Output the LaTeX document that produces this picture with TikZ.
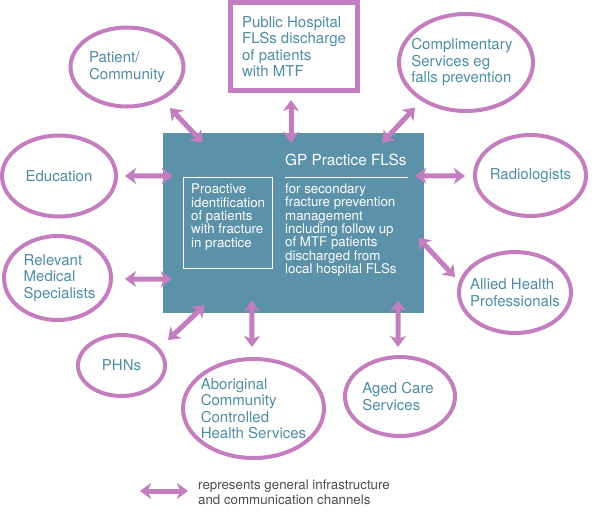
\documentclass[tikz,border=0pt]{standalone}
\usepackage{fontspec}
\setmainfont{TeX Gyre Heros}
\usetikzlibrary{arrows.meta,shapes.geometric,calc}
\definecolor{orchid}{HTML}{C47EC0}
\definecolor{fls}{HTML}{5B91A9}
\definecolor{flstext}{HTML}{4E8CA5}
\begin{document}
\begin{tikzpicture}[x=1pt,y=-1pt,
  partner/.style={ellipse,draw=orchid,line width=4pt,inner sep=0pt},
  ptext/.style={text=flstext,align=left,inner sep=0pt,font=\fontsize{15}{16.5}\selectfont},
  intext/.style={text=white,align=left,inner sep=0pt,font=\fontsize{13.3}{13.4}\selectfont},
  link/.style={orchid,line width=5pt,{Stealth[length=11pt,width=16pt,inset=3pt]}-{Stealth[length=11pt,width=16pt,inset=3pt]}}]
  \useasboundingbox (0,0) rectangle (595,515);
  % centre: GP practice
  \node[fill=fls,minimum width=261,minimum height=180,inner sep=0pt] (gp) at (293.5,223) {};
  \node[draw=white,line width=1.2pt,minimum width=89,minimum height=91,inner sep=0pt] (probox) at (228,223) {};
  \node[intext,anchor=west] (pro) at (191,217) {Proactive\\identification\\of patients\\with fracture\\in practice};
  \node[text=white,inner sep=0pt,anchor=west,font=\fontsize{15.3}{16}\selectfont] (title) at (285,160) {GP Practice FLSs};
  \draw[white,line width=1.3pt] ($(title.south west)+(0,11.5)$) -- ($(title.south east)+(1,11.5)$);
  \node[intext,anchor=west] (mgmt) at (285,230) {for secondary\\fracture prevention\\management\\including follow up\\of MTF patients\\discharged from\\local hospital FLSs};
  % partners
  \node[draw=orchid,line width=5pt,minimum width=127,minimum height=88,inner sep=0pt,ptext] (ph) at (294,46.5) {Public Hospital\\FLSs discharge\\of patients\\with MTF};
  \node[partner,minimum width=113,minimum height=79,label={[ptext]center:Patient/\\Community}] (pc) at (127,67) {};
  \node[partner,minimum width=134,minimum height=97,label={[ptext,xshift=-4pt]center:Complimentary\\Services eg\\falls prevention}] (cs) at (466,62.5) {};
  \node[partner,minimum width=114,minimum height=81,label={[ptext]center:Education}] (ed) at (59,176) {};
  \node[partner,minimum width=111,minimum height=81,label={[ptext]center:Radiologists}] (rad) at (530.5,175.5) {};
  \node[partner,minimum width=107,minimum height=84,label={[ptext,xshift=2pt]center:Relevant\\Medical\\Specialists}] (rms) at (57.5,278) {};
  \node[partner,minimum width=112,minimum height=81,label={[ptext]center:Allied Health\\Professionals}] (ah) at (515,292.5) {};
  \node[partner,minimum width=87,minimum height=61,label={[ptext]center:PHNs}] (phn) at (121.5,365.5) {};
  \node[partner,minimum width=141,minimum height=99,label={[ptext]center:Aboriginal\\Community\\Controlled\\Health Services}] (ab) at (253.5,408.5) {};
  \node[partner,minimum width=110,minimum height=79,label={[ptext,xshift=-2pt]center:Aged Care\\Services}] (ag) at (400,396.5) {};
  % channels
  \draw[link] ($(pc)+(43,41)$) -- ($(gp.north west)+(40,10)$);
  \draw[link] ($(ph.south)+(-3,7)$) -- ($(gp.north)+(-2.5,10)$);
  \draw[link] ($(cs)+(-51,45)$) -- ($(gp.north east)+(-42,10)$);
  \draw[link] ($(ed)+(66,0)$) -- ($(gp.north west)+(10,43)$);
  \draw[link] ($(rad)+(-65.5,0.5)$) -- ($(gp.north east)+(-9,43)$);
  \draw[link] ($(ah)+(-60,-15.5)$) -- ($(gp.north east)+(-6,105)$);
  \draw[link] ($(rms)+(67.5,1)$) -- ($(gp.south west)+(9,-34)$);
  \draw[link] ($(phn)+(46.5,-25.5)$) -- ($(gp.south west)+(42,-8)$);
  \draw[link] ($(ab)+(-1.5,-61.5)$) -- ($(gp.south west)+(89,-13)$);
  \draw[link] ($(ag)+(-2,-49.5)$) -- ($(gp.south east)+(-26,-13)$);
  % key
  \node[anchor=west,align=left,inner sep=0pt,text=black!70,font=\fontsize{13.3}{15}\selectfont] (key) at (198,492) {represents general infrastructure\\and communication channels};
  \draw[link] ($(key.west)+(-58,-1)$) -- ($(key.west)+(-10,-1)$);
\end{tikzpicture}
\end{document}
